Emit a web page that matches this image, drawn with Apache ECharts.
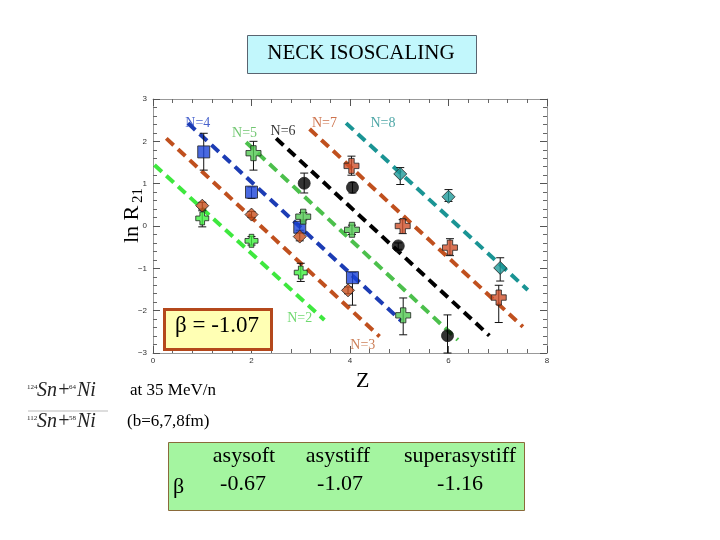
<!DOCTYPE html>
<html><head><meta charset="utf-8">
<script src="https://cdn.jsdelivr.net/npm/echarts@6/dist/echarts.min.js"></script>
<style>html,body{margin:0;padding:0;background:#fff}#c{width:720px;height:540px}</style>
</head><body><div id="c"></div>
<script>
// ---- data ----
const xTicks = [0, 2, 4, 6, 8];
const yTicks = [-3, -2, -1, 0, 1, 2, 3];
// marker groups: [Z, lnR21]
const blueSq   = [[1.03,1.75],[2.0,0.80],[2.98,-0.03],[4.05,-1.22]];
const blueErr  = [[1.32,2.19],[0.65,0.92],[-0.10,0.05],[-1.87,-1.10]];
const redDia   = [[1.0,0.48],[2.0,0.27],[2.98,-0.25],[3.96,-1.52]];
const redDiaErr= [[0.40,0.56],[0.20,0.34],[-0.35,-0.15],[-1.60,-1.44]];
const lgPlus   = [[1.0,0.18],[2.0,-0.35],[3.0,-1.10]];
const lgErr    = [[-0.02,0.36],[-0.45,-0.25],[-1.31,-0.88]];
const gCross   = [[2.04,1.72],[3.05,0.22],[4.04,-0.09],[5.08,-2.11]];
const gErr     = [[1.32,2.00],[0.14,0.32],[-0.20,0.02],[-2.57,-1.70]];
const blackC   = [[3.07,1.01],[4.05,0.91],[4.98,-0.47],[5.98,-2.59]];
const blackErr = [[0.78,1.25],[0.78,1.03],[-0.55,-0.40],[-3.0,-2.10]];
const redCross = [[4.03,1.42],[5.07,0.0],[6.03,-0.51],[7.02,-1.69]];
const redCrErr = [[1.20,1.65],[-0.18,0.15],[-0.70,-0.30],[-2.28,-1.40]];
const tealDia  = [[5.02,1.23],[6.0,0.69],[7.05,-0.99]];
const tealErr  = [[0.98,1.38],[0.58,0.86],[-1.30,-0.75]];
// dashed isoscaling lines (endpoints)
const lineNames = ['N=2','N=3','N=4','N=5','N=6','N=7','N=8'];
const lineEnds = [
  [[0.03,1.44],[3.48,-2.22]],
  [[0.27,2.07],[4.60,-2.61]],
  [[0.71,2.43],[5.04,-2.24]],
  [[1.89,1.98],[6.19,-2.69]],
  [[2.50,2.07],[6.83,-2.59]],
  [[3.18,2.29],[7.51,-2.38]],
  [[3.92,2.43],[7.61,-1.51]]
];
const lineLabelPos = [[2.98,-2.17],[4.26,-2.81],[0.91,2.43],[1.86,2.19],[2.64,2.23],[3.48,2.43],[4.67,2.43]];
const lineColors = ['#3ee83e','#c0501e','#1c3cb4','#4cc04c','#000000','#c0501e','#1a9494'];
const labelColors = ['#4cd04c','#c06030','#1c3cc0','#4cb84c','#000000','#c05020','#209090'];
const betaRowHead = ['asysoft','asystiff','superasystiff'];
const betaRowVals = ['-0.67','-1.07','-1.16'];

const serif = 'Liberation Serif';
const plusPath = 'path://M3.2,0H6.8V3.2H10V6.8H6.8V10H3.2V6.8H0V3.2H3.2Z';

function errSeries(data){
  return {
    type:'custom', xAxisIndex:0, yAxisIndex:0, z:3,
    data: data,
    renderItem: function(params, api){
      const x = api.value(0), lo = api.value(1), hi = api.value(2);
      const a = api.coord([x,hi]), b = api.coord([x,lo]);
      const st = {stroke:'#111', lineWidth:1};
      return {type:'group', children:[
        {type:'line', shape:{x1:a[0],y1:a[1],x2:b[0],y2:b[1]}, style:st},
        {type:'line', shape:{x1:a[0]-4,y1:a[1],x2:a[0]+4,y2:a[1]}, style:st},
        {type:'line', shape:{x1:b[0]-4,y1:b[1],x2:b[0]+4,y2:b[1]}, style:st}
      ]};
    }
  };
}
function withX(pts, err){ return pts.map((p,i)=>[p[0], err[i][0], err[i][1]]); }

const series = [];
lineEnds.forEach((ends,i)=>{
  series.push({type:'line', data:ends, symbol:'none', silent:true, z:2,
    lineStyle:{color:lineColors[i], width:4, type:[10,6]}});
});
series.push(errSeries(withX(blueSq,blueErr)));
series.push(errSeries(withX(redDia,redDiaErr)));
series.push(errSeries(withX(lgPlus,lgErr)));
series.push(errSeries(withX(gCross,gErr)));
series.push(errSeries(withX(blackC,blackErr)));
series.push(errSeries(withX(redCross,redCrErr)));
series.push(errSeries(withX(tealDia,tealErr)));
function sc(data, symbol, size, color){
  return {type:'scatter', data:data, symbol:symbol, symbolSize:size, z:4,
    itemStyle:{color:color, borderColor:'#222', borderWidth:1}};
}
series.push(sc(blueSq,'rect',12,'#1c44d8'));
series.push(sc(redDia,'diamond',13,'#c8501e'));
series.push(sc(lgPlus,plusPath,13,'#3ef03e'));
series.push(sc(gCross,plusPath,15,'#52c852'));
series.push(sc(blackC,'circle',12,'#000'));
series.push(sc(redCross,plusPath,15,'#d0502a'));
series.push(sc(tealDia,'diamond',13,'#1e9a9a'));
series.push({type:'scatter', symbolSize:0, z:5, silent:true,
  data: lineLabelPos.map((p,i)=>({value:p, label:{show:true, position:'inside', formatter:lineNames[i],
     color:labelColors[i], fontFamily:serif, fontSize:14}}))});

const ax = {
  min:0, max:8, interval:2, type:'value',
  axisLine:{show:true, onZero:false, lineStyle:{color:'#999', width:1}},
  axisTick:{show:true, inside:true, length:7, lineStyle:{color:'#555'}},
  minorTick:{show:true, splitNumber:5, length:4, lineStyle:{color:'#666'}},
  splitLine:{show:false}
};
const ay = {
  min:-3, max:3, interval:1, type:'value',
  axisLine:{show:true, onZero:false, lineStyle:{color:'#999', width:1}},
  axisTick:{show:true, inside:true, length:7, lineStyle:{color:'#555'}},
  minorTick:{show:true, splitNumber:5, length:4, lineStyle:{color:'#666'}},
  splitLine:{show:false}
};
const fmt = v => String(v).replace('-', '\u2212');

const fracParts = function(x, y, a){
  return [
    {type:'text', left:x, top:y+3, style:{text:a[0], fontFamily:serif, fontSize:7, fill:'#222'}},
    {type:'text', left:x+10, top:y, style:{text:'Sn+', fontFamily:serif, fontStyle:'italic', fontSize:20, fill:'#222'}},
    {type:'text', left:x+42, top:y+3, style:{text:a[1], fontFamily:serif, fontSize:7, fill:'#222'}},
    {type:'text', left:x+50, top:y, style:{text:'Ni', fontFamily:serif, fontStyle:'italic', fontSize:20, fill:'#222'}}
  ];
};

const graphic = [
  {type:'rect', left:247, top:35, shape:{width:229, height:38}, style:{fill:'#c2f7fc', stroke:'#5a6470', lineWidth:1}},
  {type:'text', x:361, y:43, style:{text:'NECK ISOSCALING', fontFamily:serif, fontSize:21, fill:'#000', textAlign:'center'}},
  {type:'rect', left:163, top:308, shape:{width:107, height:40}, style:{fill:'#ffffb4', stroke:'#b4481c', lineWidth:3}, z:10},
  {type:'text', left:175, top:314, style:{text:'\u03b2 = -1.07', fontFamily:serif, fontSize:23, fill:'#000'}, z:11},
  {type:'text', x:143, y:243, rotation:Math.PI/2, style:{text:'ln R', fontFamily:serif, fontSize:22, fill:'#000', textAlign:'left', textVerticalAlign:'bottom'}},
  {type:'text', x:146, y:203, rotation:Math.PI/2, style:{text:'21', fontFamily:serif, fontSize:15, fill:'#000', textAlign:'left', textVerticalAlign:'bottom'}},
  {type:'text', left:356, top:370, style:{text:'Z', fontFamily:serif, fontSize:22, fill:'#000'}},
  {type:'line', shape:{x1:28, y1:411, x2:108, y2:411}, style:{stroke:'#bbb', lineWidth:1}},
  {type:'text', left:130, top:382, style:{text:'at 35 MeV/n', fontFamily:serif, fontSize:17, fill:'#000'}},
  {type:'text', left:127, top:413, style:{text:'(b=6,7,8fm)', fontFamily:serif, fontSize:17, fill:'#000'}},
  {type:'rect', left:168, top:442, shape:{width:356, height:68}, style:{fill:'#a4f5a0', stroke:'#8a6a3a', lineWidth:1}},
  {type:'text', left:173, top:476, style:{text:'\u03b2', fontFamily:serif, fontSize:22, fill:'#000'}}
].concat(fracParts(27, 381, ['124','64'])).concat(fracParts(27, 412, ['112','58']));
const headX = [244, 338, 460], valX = [243, 340, 460];
betaRowHead.forEach((t,i)=>graphic.push({type:'text', x:headX[i], y:445, style:{text:t, fontFamily:serif, fontSize:22, fill:'#000', textAlign:'center'}}));
betaRowVals.forEach((t,i)=>graphic.push({type:'text', x:valX[i], y:473, style:{text:t, fontFamily:serif, fontSize:22, fill:'#000', textAlign:'center'}}));

const chart = echarts.init(document.getElementById('c'), null, {renderer:'canvas'});
chart.setOption({
  animation:false,
  backgroundColor:'#fff',
  grid:{left:153, top:99, width:394, height:254},
  xAxis:[
    Object.assign({}, ax, {position:'bottom', axisLabel:{fontSize:8, color:'#333', margin:4, formatter:fmt}}),
    Object.assign({}, ax, {position:'top', axisLabel:{show:false}})
  ],
  yAxis:[
    Object.assign({}, ay, {position:'left', axisLabel:{fontSize:8, color:'#333', margin:6, formatter:fmt}}),
    Object.assign({}, ay, {position:'right', axisLabel:{show:false}})
  ],
  series: series,
  graphic: graphic
});
</script></body></html>
